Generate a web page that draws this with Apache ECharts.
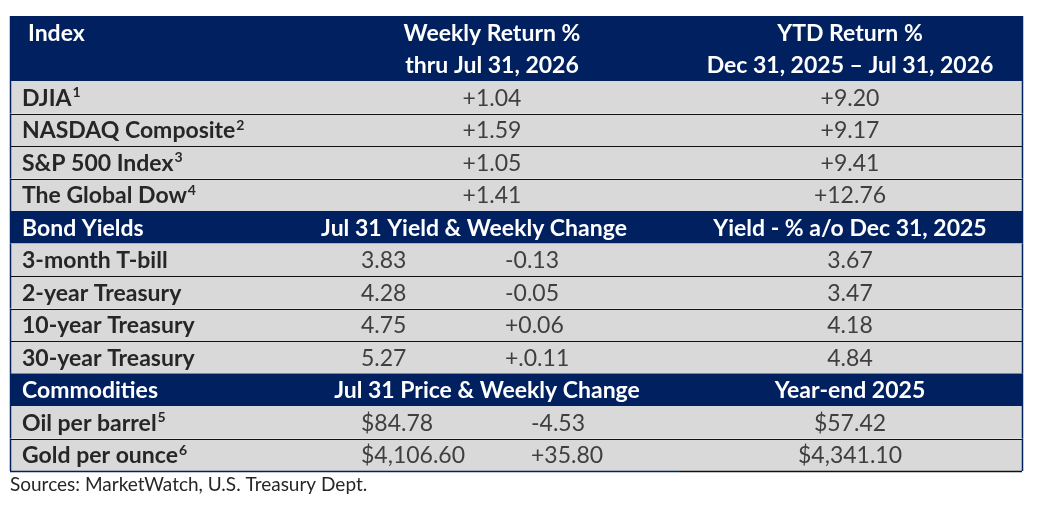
<!DOCTYPE html>
<html>
<head>
<meta charset="utf-8">
<script src="https://cdn.jsdelivr.net/npm/echarts@6/dist/echarts.min.js"></script>
<style>
html,body{margin:0;padding:0;background:#fff;}
#chart{width:1041px;height:511px;}
</style>
</head>
<body>
<div id="chart"></div>
<script>
// ---------- data ----------
const indexHeader = ['Index', 'Weekly Return %', 'thru Jul 31, 2026', 'YTD Return %', 'Dec 31, 2025 \u2013 Jul 31, 2026'];
const indexNames = ['DJIA', 'NASDAQ Composite', 'S&P 500 Index', 'The Global Dow'];
const indexNotes = ['1', '2', '3', '4'];
const weeklyReturn = ['+1.04', '+1.59', '+1.05', '+1.41'];
const ytdReturn = ['+9.20', '+9.17', '+9.41', '+12.76'];

const bondHeader = ['Bond Yields', 'Jul 31 Yield & Weekly Change', 'Yield - % a/o Dec 31, 2025'];
const bondNames = ['3-month T-bill', '2-year Treasury', '10-year Treasury', '30-year Treasury'];
const bondYield = ['3.83', '4.28', '4.75', '5.27'];
const bondChange = ['-0.13', '-0.05', '+0.06', '+.0.11'];
const bondPriorYield = ['3.67', '3.47', '4.18', '4.84'];

const commodityHeader = ['Commodities', 'Jul 31 Price & Weekly Change', 'Year-end 2025'];
const commodityNames = ['Oil per barrel', 'Gold per ounce'];
const commodityNotes = ['5', '6'];
const commodityPrice = ['$84.78', '$4,106.60'];
const commodityChange = ['-4.53', '+35.80'];
const commodityYearEnd = ['$57.42', '$4,341.10'];

const sourceNote = 'Sources: MarketWatch, U.S. Treasury Dept.';

// ---------- styling / layout ----------
const NAVY = '#002060';
const GRAY = '#D9D9D9';
const LABEL_COLOR = '#262626';
const VALUE_COLOR = '#3F3F3F';
const FONT = 'Lato';
const FS = 23;
const SUP_FS = 14;
const TABLE_W = 1012;
const BOTTOM_NAVY_END = 670;
// column anchors in table units
const COL = { name: 12, head: 18, c1: 482, c2: 840, yld: 351, chg: 495, cchg: 521 };

// ---------- build rows ----------
const rows = [];
let cursor = 0;
function addRow(dark, span, cells) { rows.push({ dark, span, start: cursor, cells }); cursor += span; }

addRow(true, 2, [
  { x: COL.head, align: 'left', text: indexHeader[0], bold: true, line: 0 },
  { x: COL.c1, align: 'center', text: indexHeader[1], bold: true, line: 0 },
  { x: COL.c1, align: 'center', text: indexHeader[2], bold: true, line: 1 },
  { x: COL.c2, align: 'center', text: indexHeader[3], bold: true, line: 0 },
  { x: COL.c2, align: 'center', text: indexHeader[4], bold: true, line: 1 }
]);
indexNames.forEach((n, i) => addRow(false, 1, [
  { x: COL.name, align: 'left', text: n, sup: indexNotes[i], bold: true, line: 0 },
  { x: COL.c1, align: 'center', text: weeklyReturn[i], line: 0 },
  { x: COL.c2, align: 'center', text: ytdReturn[i], line: 0 }
]));
addRow(true, 1, [
  { x: COL.name, align: 'left', text: bondHeader[0], bold: true, line: 0 },
  { x: 464, align: 'center', text: bondHeader[1], bold: true, line: 0 },
  { x: COL.c2, align: 'center', text: bondHeader[2], bold: true, line: 0 }
]);
bondNames.forEach((n, i) => addRow(false, 1, [
  { x: COL.name, align: 'left', text: n, bold: true, line: 0 },
  { x: COL.yld, align: 'left', text: bondYield[i], line: 0 },
  { x: COL.chg, align: 'left', text: bondChange[i], line: 0 },
  { x: COL.c2, align: 'center', text: bondPriorYield[i], line: 0 }
]));
addRow(true, 1, [
  { x: COL.name, align: 'left', text: commodityHeader[0], bold: true, line: 0 },
  { x: 477, align: 'center', text: commodityHeader[1], bold: true, line: 0 },
  { x: COL.c2, align: 'center', text: commodityHeader[2], bold: true, line: 0 }
]);
commodityNames.forEach((n, i) => addRow(false, 1, [
  { x: COL.name, align: 'left', text: n, sup: commodityNotes[i], bold: true, line: 0 },
  { x: COL.yld, align: 'left', text: commodityPrice[i], line: 0 },
  { x: COL.cchg, align: 'left', text: commodityChange[i], line: 0 },
  { x: COL.c2, align: 'center', text: commodityYearEnd[i], line: 0 }
]));
const TOTAL = cursor;

function px(v) { return Math.round(v) + 0.5; }

function renderRow(params, api) {
  const idx = params.dataIndex;
  const r = rows[idx];
  const xL = api.coord([0, r.start])[0];
  const xR = api.coord([TABLE_W, r.start])[0];
  const yT = api.coord([0, r.start])[1];
  const yB = api.coord([0, r.start + r.span])[1];
  const isLast = idx === rows.length - 1;
  const children = [];
  children.push({ type: 'rect', shape: { x: xL, y: yT, width: xR - xL, height: yB - yT },
    style: { fill: r.dark ? NAVY : GRAY } });
  if (!r.dark) {
    if (isLast) {
      const xm = api.coord([BOTTOM_NAVY_END, 0])[0];
      children.push({ type: 'line', shape: { x1: xL, y1: px(yB), x2: xm, y2: px(yB) },
        style: { stroke: NAVY, lineWidth: 1.5 } });
      children.push({ type: 'line', shape: { x1: xm, y1: px(yB), x2: xR, y2: px(yB) },
        style: { stroke: '#111', lineWidth: 1.5 } });
    } else {
      children.push({ type: 'line', shape: { x1: xL, y1: px(yB), x2: xR, y2: px(yB) },
        style: { stroke: '#111', lineWidth: 1 } });
    }
    const prev = rows[idx - 1];
    if (prev && !prev.dark) {
      children.push({ type: 'line', shape: { x1: xL, y1: px(yT), x2: xR, y2: px(yT) },
        style: { stroke: '#111', lineWidth: 1 } });
    }
  }
  children.push({ type: 'line', shape: { x1: px(xL), y1: yT, x2: px(xL), y2: yB }, style: { stroke: NAVY, lineWidth: 1.5 } });
  children.push({ type: 'line', shape: { x1: px(xR), y1: yT, x2: px(xR), y2: yB }, style: { stroke: NAVY, lineWidth: 1.5 } });
  r.cells.forEach(c => {
    const x = api.coord([c.x, 0])[0];
    const y = api.coord([0, r.start + c.line + 0.5])[1] + 1;
    const color = r.dark ? '#FFFFFF' : (c.bold ? LABEL_COLOR : VALUE_COLOR);
    const weight = c.bold ? 'bold' : 'normal';
    children.push({
      type: 'text',
      style: {
        x: x, y: y,
        text: c.sup ? '{m|' + c.text + '}{s|' + c.sup + '}' : c.text,
        fill: color,
        font: weight + ' ' + FS + 'px ' + FONT,
        align: c.align, verticalAlign: 'middle',
        rich: c.sup ? {
          m: { fontSize: FS, fontWeight: weight, fontFamily: FONT, fill: color, lineHeight: FS + 2 },
          s: { fontSize: SUP_FS, fontWeight: weight, fontFamily: FONT, fill: color, verticalAlign: 'top', lineHeight: FS + 2, padding: [0, 0, 0, 1] }
        } : undefined
      }
    });
  });
  return { type: 'group', children };
}

const chart = echarts.init(document.getElementById('chart'), null, { renderer: 'canvas' });
chart.setOption({
  animation: false,
  backgroundColor: '#FFFFFF',
  title: {
    text: sourceNote, left: 10, top: 475, padding: 0,
    textStyle: { fontFamily: FONT, fontSize: 19, fontWeight: 'normal', color: LABEL_COLOR }
  },
  grid: { left: 10, top: 16, width: TABLE_W, height: 455 },
  xAxis: { type: 'value', min: 0, max: TABLE_W, show: false },
  yAxis: { type: 'value', min: 0, max: TOTAL, inverse: true, show: false },
  series: [{
    type: 'custom',
    renderItem: renderRow,
    clip: false,
    encode: { x: 0, y: 1 },
    data: rows.map((r, i) => [0, r.start, i])
  }]
});
</script>
</body>
</html>
